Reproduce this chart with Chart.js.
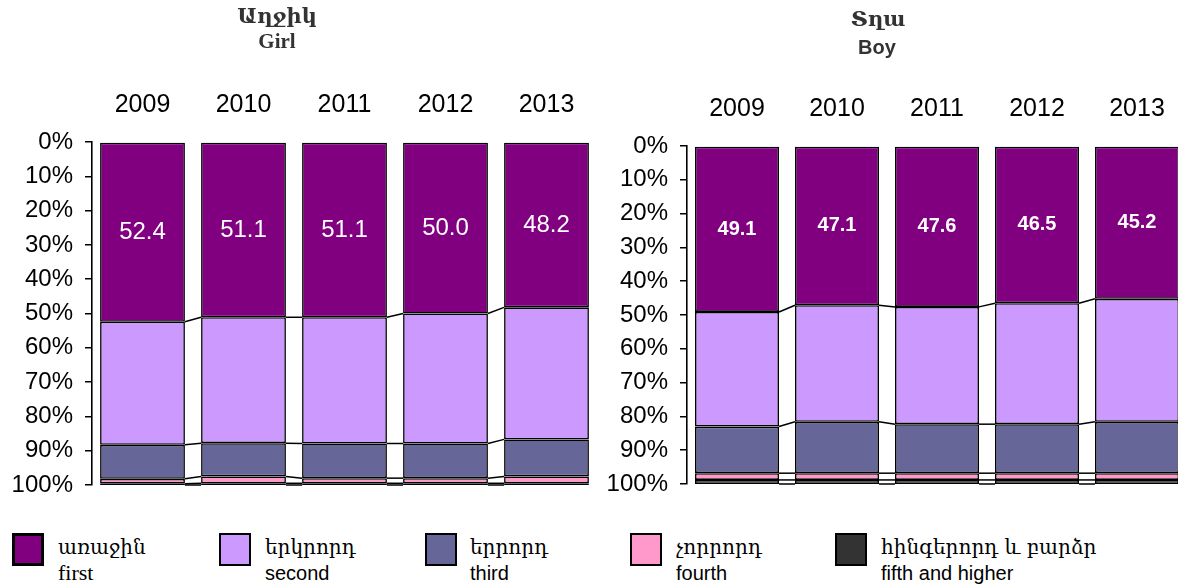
<!DOCTYPE html>
<html><head><meta charset="utf-8">
<script src="https://cdn.jsdelivr.net/npm/chart.js@4.4.1/dist/chart.umd.min.js"></script>
<style>
html,body{margin:0;padding:0;background:#fff;overflow:hidden;width:1178px;height:588px;}
#wrap{position:relative;width:1178px;height:588px;overflow:hidden;background:#fff;}
canvas{position:absolute;top:0;}
.t{position:absolute;transform:translateX(-50%);white-space:nowrap;color:#333;font-size:20px;line-height:24px;text-align:center;font-weight:bold;}
.hy{font-family:"DejaVu Serif","Liberation Serif","DejaVu Sans",serif;}
.ser{font-family:"Liberation Serif","DejaVu Serif",serif;}
.en{font-family:"Liberation Sans",Arial,sans-serif;}
.lg{position:absolute;top:533px;}
.sw{position:absolute;left:0;top:0;width:28px;height:29px;border:2px solid #000;}
.lt{position:absolute;top:1px;white-space:nowrap;color:#000;font-size:20px;line-height:26px;}
</style></head>
<body><div id="wrap">
<canvas id="girl" width="600" height="500" style="left:0px;width:600px;height:500px;"></canvas>
<canvas id="boy" width="600" height="500" style="left:590px;width:600px;height:500px;"></canvas>
<div class="t hy" style="left:277px;top:4px;font-size:21px;">Աղջիկ</div>
<div class="t ser" style="left:277px;top:29px;font-size:21px;">Girl</div>
<div class="t hy" style="left:878px;top:7px;font-size:21px;">Տղա</div>
<div class="t en" style="left:877px;top:35px;">Boy</div>
<div id="legend"></div>
</div>
<script>
const years = ['2009','2010','2011','2012','2013'];

const girlFirst  = [52.4, 51.1, 51.1, 50.0, 48.2];
const girlSecond = [35.9, 36.7, 36.8, 37.9, 38.5];
const girlThird  = [9.9, 9.7, 10.1, 10.1, 10.8];
const girlFourth = [1.4, 2.0, 1.5, 1.5, 2.0];
const girlFifth  = [0.4, 0.5, 0.5, 0.5, 0.5];

const boyFirst  = [49.1, 47.1, 47.6, 46.5, 45.2];
const boySecond = [33.9, 34.5, 34.7, 35.8, 36.4];
const boyThird  = [13.8, 15.2, 14.5, 14.5, 15.2];
const boyFourth = [2.0, 2.0, 2.0, 2.0, 2.0];
const boyFifth  = [1.2, 1.2, 1.2, 1.2, 1.2];

const seriesHy = ['առաջին', 'երկրորդ', 'երրորդ', 'չորրորդ', 'հինգերորդ և բարձր'];
const seriesEn = ['first', 'second', 'third', 'fourth', 'fifth and higher'];
const colors = ['#800080', '#CC99FF', '#666699', '#FF99CC', '#333333'];

const SANS = '"Liberation Sans", Arial, sans-serif';

const seriesLines = {
  id: 'seriesLines',
  afterDatasetsDraw(chart) {
    const ctx = chart.ctx;
    ctx.save();
    ctx.strokeStyle = '#000';
    ctx.lineWidth = 1.5;
    chart.data.datasets.forEach((ds, i) => {
      const meta = chart.getDatasetMeta(i);
      for (let j = 0; j < meta.data.length - 1; j++) {
        const a = meta.data[j], b = meta.data[j + 1];
        ctx.beginPath();
        ctx.moveTo(a.x + a.width / 2, a.y);
        ctx.lineTo(b.x - b.width / 2, b.y);
        ctx.stroke();
      }
    });
    ctx.restore();
  }
};

const valueLabels = {
  id: 'valueLabels',
  afterDatasetsDraw(chart, args, opts) {
    const ctx = chart.ctx;
    const meta = chart.getDatasetMeta(0);
    ctx.save();
    ctx.fillStyle = '#fff';
    ctx.font = opts.font;
    ctx.textAlign = 'center';
    ctx.textBaseline = 'middle';
    meta.data.forEach((el, j) => {
      const v = chart.data.datasets[0].data[j];
      ctx.fillText(v.toFixed(1), el.x, (el.y + el.base) / 2 + opts.dy);
    });
    ctx.restore();
  }
};

function makeChart(id, arrays, cfg) {
  return new Chart(document.getElementById(id), {
    type: 'bar',
    data: {
      labels: years,
      datasets: arrays.map((arr, i) => ({
        label: seriesEn[i],
        data: arr,
        backgroundColor: colors[i],
        borderColor: '#000',
        borderWidth: 1.6,
        borderSkipped: false,
        barPercentage: 0.84,
        categoryPercentage: 1.0
      }))
    },
    options: {
      responsive: false,
      animation: false,
      devicePixelRatio: 1,
      layout: { padding: { left: 0, right: 3, top: 0, bottom: 500 - cfg.bottom } },
      plugins: {
        legend: { display: false },
        tooltip: { enabled: false },
        valueLabels: { font: cfg.labelFont, dy: cfg.dy }
      },
      scales: {
        x: {
          position: 'top',
          stacked: true,
          grid: { display: false, drawTicks: false },
          border: { display: false },
          ticks: { color: '#000', font: { family: SANS, size: 25 }, padding: cfg.xPad, maxRotation: 0 },
          afterFit(s) { s.height = cfg.top; s.paddingLeft = 0; s.paddingRight = 0; }
        },
        y: {
          stacked: true,
          reverse: true,
          min: 0, max: 100,
          ticks: { stepSize: 10, color: '#000', font: { family: SANS, size: 24 }, padding: 12,
                   callback: v => v + '%' },
          grid: { display: true, drawOnChartArea: false, drawTicks: true, tickLength: 7, color: '#000', lineWidth: 1.5 },
          border: { display: true, color: '#000', width: 1.6 },
          afterFit(s) { s.width = cfg.left; s.paddingTop = 0; s.paddingBottom = 0; }
        }
      }
    },
    plugins: [seriesLines, valueLabels]
  });
}

makeChart('girl', [girlFirst, girlSecond, girlThird, girlFourth, girlFifth],
  { left: 92, top: 142, bottom: 485, xPad: 22, labelFont: '24px ' + SANS, dy: 0 });
makeChart('boy', [boyFirst, boySecond, boyThird, boyFourth, boyFifth],
  { left: 97, top: 146, bottom: 484, xPad: 22, labelFont: 'bold 20px ' + SANS, dy: 0 });

// legend
const legendX = [12, 219, 425, 630, 835];
const lg = document.getElementById('legend');
seriesHy.forEach((hy, i) => {
  const d = document.createElement('div');
  d.className = 'lg';
  d.style.left = legendX[i] + 'px';
  d.innerHTML = '<div class="sw" style="background:' + colors[i] + ';' + (i === 0 ? 'border-width:3px;width:26px;height:27px;' : '') + '"></div>' +
    '<div class="lt" style="left:' + (i === 2 ? 45 : 46) + 'px;"><div class="hy">' + hy + '</div>' +
    '<div class="' + (i === 0 ? 'ser' : 'en') + '"' + (i === 0 ? ' style="font-size:22px"' : '') + '>' + seriesEn[i] + '</div></div>';
  lg.appendChild(d);
});
</script>
</body></html>
